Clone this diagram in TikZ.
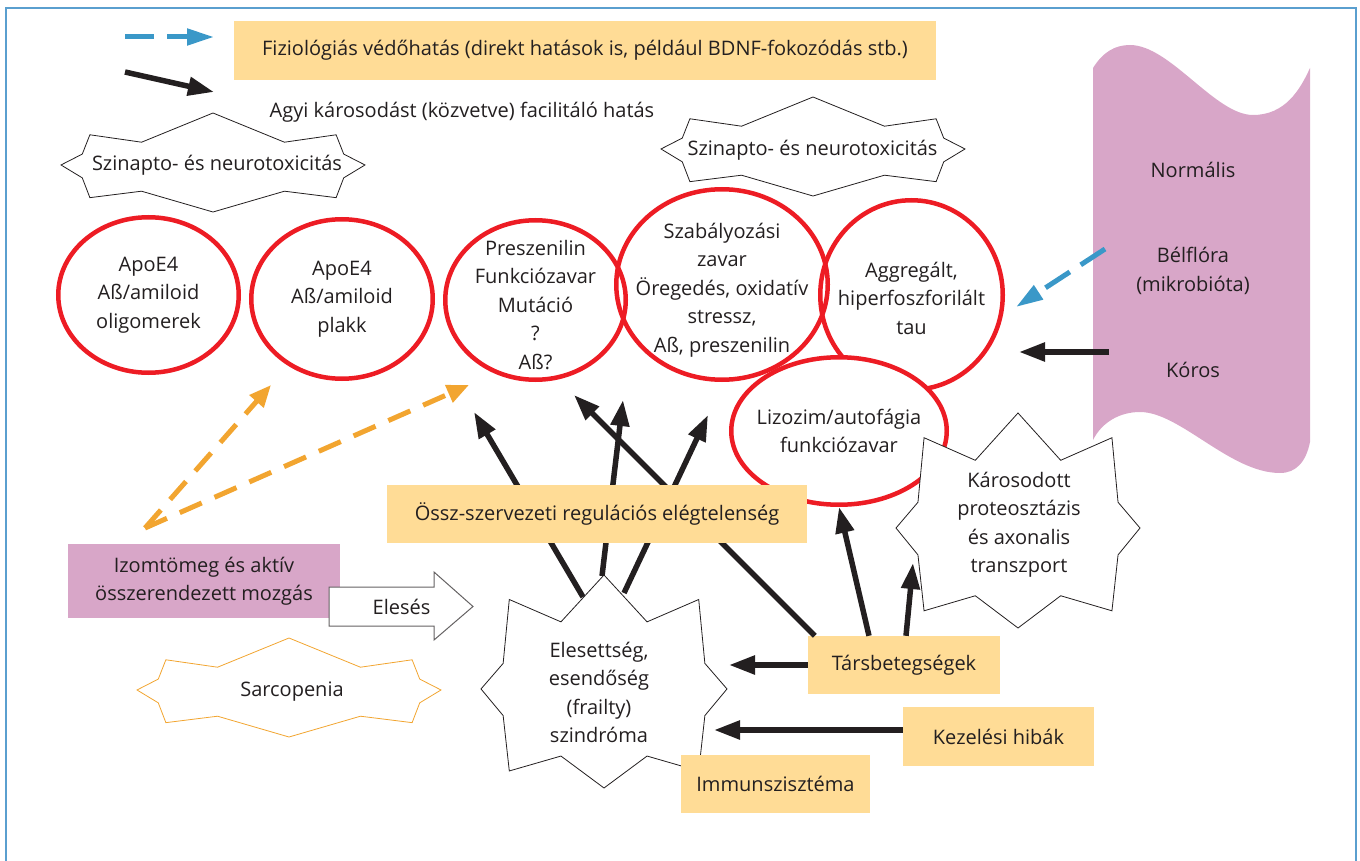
\documentclass[tikz,border=0pt]{standalone}
\usepackage{fontspec}
\setmainfont{Open Sans}
\usetikzlibrary{arrows.meta,positioning,shapes.geometric,calc}
\definecolor{boxfill}{HTML}{FFDC96}
\definecolor{florafill}{HTML}{D8A6C8}
\definecolor{ovalred}{HTML}{ED1C24}
\definecolor{protblue}{HTML}{3A98C8}
\definecolor{sarcoorange}{HTML}{F2A530}
\definecolor{inkblack}{HTML}{231F20}
\definecolor{frameblue}{HTML}{5A9FCF}
\tikzset{
  pics/flatstar/.style={code={
    \path[pic actions] (0,-1) -- (.47,-.41) -- (.81,-.56) -- (.86,-.17) -- (1,.05) -- (.86,.31)
      -- (.81,.71) -- (.47,.58) -- (0,1) -- (-.47,.58) -- (-.81,.71) -- (-.86,.31) -- (-1,.05)
      -- (-.86,-.17) -- (-.81,-.56) -- (-.47,-.41) -- cycle;}},
  pics/burst/.style={code={
    \path[pic actions] (0,-1) -- (.35,-.56) -- (.77,-.77) -- (.82,-.17) -- (1,.07) -- (.82,.32)
      -- (.77,.84) -- (.35,.70) -- (0,1) -- (-.35,.70) -- (-.77,.84) -- (-.82,.32) -- (-1,.07)
      -- (-.82,-.17) -- (-.77,-.77) -- (-.35,-.56) -- cycle;}}
}
\begin{document}
\begin{tikzpicture}[
  x=1pt,y=-1pt,
  every node/.style={font=\fontsize{20}{28.5}\selectfont,text=inkblack},
  txt/.style={align=center,inner sep=0pt},
  box/.style={rectangle,fill=boxfill,align=center,inner sep=0pt},
  oval/.style={ellipse,draw=ovalred,line width=4.5pt,inner sep=0pt},
  lbl/.style={align=center,inner sep=0pt},
  line/.style={draw=inkblack,line width=5.5pt,-{Triangle[length=26pt,width=18pt]}},
  protect/.style={draw=protblue,line width=5pt,dash pattern=on 29pt off 13pt,-{Triangle[length=27pt,width=16pt]}},
  muscleline/.style={draw=sarcoorange,line width=5pt,dash pattern=on 24pt off 14pt,-{Triangle[length=22pt,width=18pt]}},
  starline/.style={draw=inkblack,fill=white,line width=0.8pt}]
\useasboundingbox (0,0) rectangle (1360,861);
\draw[frameblue,line width=1.5pt] (6,870) -- (6,8) -- (1356,8) -- (1356,870);

\fill[florafill] (1093,68) .. controls (1103,52) and (1115,45) .. (1130,45)
  .. controls (1170,45) and (1215,115) .. (1253,115) .. controls (1285,115) and (1300,90) .. (1310,68)
  -- (1310,442) .. controls (1306,462) and (1296,473) .. (1280,473)
  .. controls (1230,473) and (1180,412) .. (1140,412) .. controls (1120,412) and (1102,422) .. (1093,440) -- cycle;
\node[txt] (normal) at (1193,170) {Normális};
\node[txt] (flora) at (1193,271) {Bélflóra\\(mikrobióta)};
\node[txt] (patho) at (1193,370) {Kóros};

\coordinate (keyA) at (125,37);
\coordinate (keyAend) at (214,37);
\coordinate (keyB) at (125,72);
\coordinate (keyBend) at (214,92);
\draw[protect] (keyA) -- (keyAend);
\draw[line] (keyB) -- (keyBend);
\node[box,minimum width=702pt,minimum height=59pt] (physio) at (585,50.5) {Fiziológiás védőhatás (direkt hatások is, például BDNF-fokozódás stb.)};
\node[txt] (harm) at (462,112) {Agyi károsodást (közvetve) facilitáló hatás};

\pic[starline,xscale=152,yscale=49.5] at (213,162.5) {flatstar};
\node[txt] (toxL) at (217,165) {Szinapto- és neurotoxicitás};
\pic[starline,xscale=152,yscale=49.5] at (813,146.5) {flatstar};
\node[txt] (toxR) at (812.5,150) {Szinapto- és neurotoxicitás};

\node[oval,minimum width=180.5pt,minimum height=155.5pt,label={[lbl]center:{ApoE4\\Aß/amiloid\\oligomerek}}] (oligo) at (148.5,295) {};
\node[oval,minimum width=181.5pt,minimum height=159.5pt,label={[lbl]center:{ApoE4\\Aß/amiloid\\plakk}}] (plaque) at (342,299) {};
\node[oval,minimum width=180.5pt,minimum height=159.5pt,label={[lbl,yshift=-5pt]center:{Preszenilin\\Funkciózavar\\Mutáció\\?\\Aß?}}] (presen) at (535.5,300) {};
\node[oval,minimum width=211.5pt,minimum height=190.5pt,label={[lbl,yshift=-5.5pt]center:{Szabályozási\\zavar\\Öregedés, oxidatív\\stressz,\\Aß, preszenilin}}] (regul) at (722,284.5) {};
\node[oval,minimum width=182.5pt,minimum height=189.5pt,label={[lbl,yshift=-3pt]center:{Aggregált,\\hiperfoszforilált\\tau}}] (tau) at (911.5,295) {};

\coordinate (frailA) at (583,597);
\coordinate (frailB) at (602,576);
\coordinate (frailC) at (624,593);
\coordinate (tipA) at (474,412);
\coordinate (tipB) at (623,400);
\coordinate (tipC) at (708,415);
\coordinate (tipD) at (574,395);
\draw[line] (frailA) -- (tipA);
\draw[line] (frailB) -- (tipB);
\draw[line] (frailC) -- (tipC);

\node[oval,fill=white,minimum width=215.5pt,minimum height=147.5pt,label={[lbl]center:{Lizozim/autofágia\\funkciózavar}}] (lyso) at (839,431) {};
\pic[starline,xscale=122,yscale=107.5] at (1018,520.5) {burst};
\node[txt] (proteo) at (1019,524.5) {Károsodott\\proteosztázis\\és axonalis\\transzport};

\node[box,minimum width=192pt,minimum height=58pt] (comorb) at (904,665) {Társbetegségek};
\node[box,minimum width=191pt,minimum height=59pt] (treat) at (998.5,736.5) {Kezelési hibák};
\coordinate (tipE) at (729,665);
\coordinate (tipF) at (714,730);
\coordinate (tipG) at (913,563);
\draw[line] ($(comorb.north west)+(7,0)$) -- (tipD);
\draw[line] ($(comorb.north)+(-35,0)$) -- (lyso.south);
\draw[line] ($(comorb.north)+(2,0)$) -- (tipG);
\draw[line] (comorb.west) -- (tipE);
\draw[line] ($(treat.west)+(0,-6.5)$) -- (tipF);

\coordinate (pathoA) at (1109,352);
\coordinate (pathoB) at (1019,352);
\coordinate (floraA) at (1105,249);
\coordinate (floraB) at (1016,307);
\draw[line] (pathoA) -- (pathoB);
\draw[protect] (floraA) -- (floraB);

\coordinate (muscleTop) at (145,528);
\coordinate (tipH) at (271,385);
\coordinate (tipI) at (469,385);
\draw[muscleline] (muscleTop) -- (tipH);
\draw[muscleline] (muscleTop) -- (tipI);

\node[box,minimum width=420pt,minimum height=58pt] (global) at (597,514) {Össz-szervezeti regulációs elégtelenség};

\pic[starline,xscale=123,yscale=106.5] at (604,681.5) {burst};
\node[txt] (frail) at (599,692.5) {Elesettség,\\esendőség\\(frailty)\\szindróma};
\node[box,minimum width=189pt,minimum height=58pt] (immun) at (775.5,784) {Immunszisztéma};

\node[box,fill=florafill,minimum width=272pt,minimum height=74pt] (muscle) at (204,581) {Izomtömeg és aktív\\összerendezett mozgás};
\draw[draw=inkblack!70,fill=white,line width=1pt] (329,587) -- (434,587) -- (434,572) -- (473,606.5)
  -- (434,640) -- (434,626) -- (329,626) -- cycle;
\node[txt] (fall) at (401.5,607) {Elesés};

\pic[draw=sarcoorange,fill=white,line width=0.8pt,xscale=152,yscale=49.5] at (289,687.5) {flatstar};
\node[txt] (sarco) at (292,692) {Sarcopenia};
\end{tikzpicture}
\end{document}
